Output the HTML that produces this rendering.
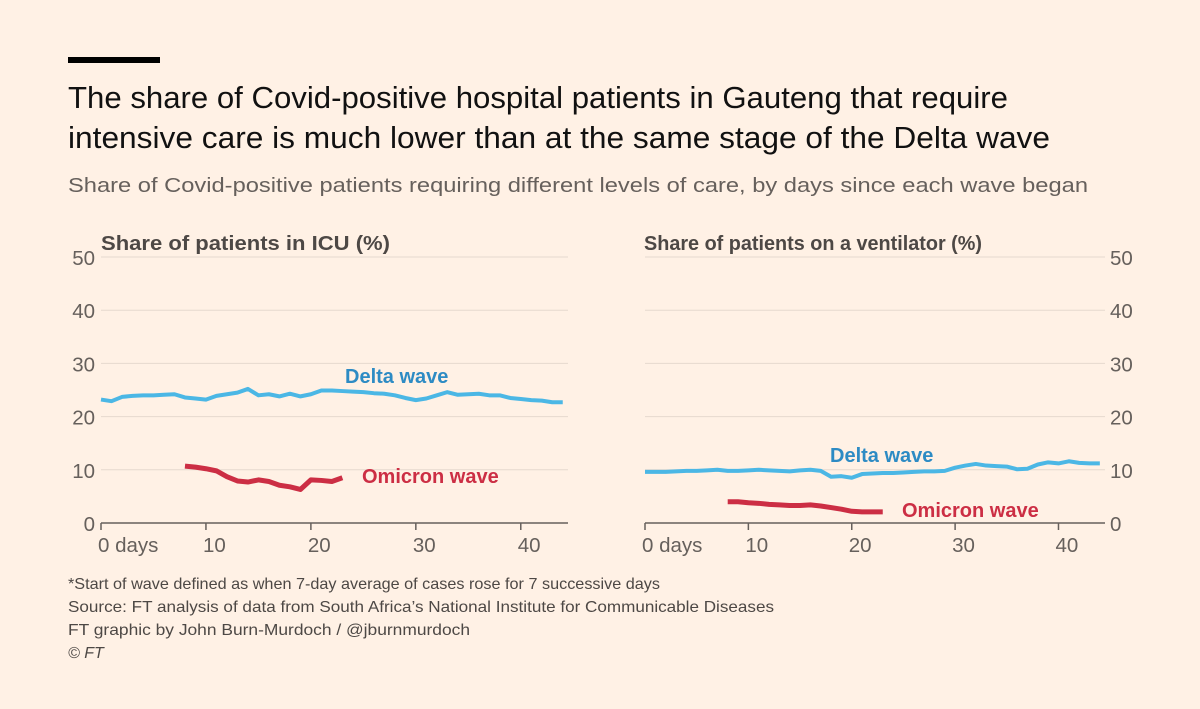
<!DOCTYPE html>
<html><head><meta charset="utf-8"><style>
body{margin:0;background:#fff1e5;}
svg{display:block;font-family:"Liberation Sans",sans-serif;}
</style></head><body>
<svg width="1200" height="709" viewBox="0 0 1200 709">
<rect width="1200" height="709" fill="#fff1e5"/>
<rect x="68" y="57" width="92" height="6" fill="#000"/>
<text x="68" y="108" font-size="31" fill="#111" textLength="940" lengthAdjust="spacingAndGlyphs">The share of Covid-positive hospital patients in Gauteng that require</text>
<text x="68" y="148" font-size="31" fill="#111" textLength="982" lengthAdjust="spacingAndGlyphs">intensive care is much lower than at the same stage of the Delta wave</text>
<text x="68" y="192" font-size="20.5" fill="#66605c" textLength="1020" lengthAdjust="spacingAndGlyphs">Share of Covid-positive patients requiring different levels of care, by days since each wave began</text>
<text x="101" y="250" font-size="20" font-weight="bold" fill="#4d4845" textLength="289" lengthAdjust="spacingAndGlyphs">Share of patients in ICU (%)</text>
<text x="644" y="250" font-size="20" font-weight="bold" fill="#4d4845" textLength="338" lengthAdjust="spacingAndGlyphs">Share of patients on a ventilator (%)</text>
<g id="left"></g>
<g id="right"></g>
<g font-size="16" fill="#4d4845">
<text x="68" y="589" textLength="592" lengthAdjust="spacingAndGlyphs">*Start of wave defined as when 7-day average of cases rose for 7 successive days</text>
<text x="68" y="612" textLength="706" lengthAdjust="spacingAndGlyphs">Source: FT analysis of data from South Africa’s National Institute for Communicable Diseases</text>
<text x="68" y="635" textLength="402" lengthAdjust="spacingAndGlyphs">FT graphic by John Burn-Murdoch / @jburnmurdoch</text>
<text x="68" y="658" font-style="italic">© FT</text>
</g>
</svg>
<script>
const yTicks=[0,10,20,30,40,50];
const xTicks=[0,10,20,30,40];
const xTickLabels=["0 days","10","20","30","40"];
const icuDelta=[23.2,22.9,23.7,23.9,24.0,24.0,24.1,24.2,23.6,23.4,23.2,23.9,24.2,24.5,25.2,24.0,24.2,23.8,24.3,23.8,24.2,24.9,24.9,24.8,24.7,24.6,24.4,24.3,24.0,23.5,23.1,23.4,24.0,24.6,24.1,24.2,24.3,24.0,24.0,23.5,23.3,23.1,23.0,22.7,22.7];
const icuOmicron=[10.7,10.5,10.2,9.8,8.7,7.9,7.7,8.1,7.8,7.1,6.8,6.3,8.1,8.0,7.8,8.5];
const ventDelta=[9.6,9.6,9.6,9.7,9.8,9.8,9.9,10.0,9.8,9.8,9.9,10.0,9.9,9.8,9.7,9.9,10.0,9.8,8.7,8.8,8.5,9.2,9.3,9.4,9.4,9.5,9.6,9.7,9.7,9.8,10.4,10.8,11.1,10.8,10.7,10.6,10.1,10.2,11.0,11.4,11.2,11.6,11.3,11.2,11.2];
const ventOmicron=[4.0,4.0,3.8,3.7,3.5,3.4,3.3,3.3,3.4,3.2,2.9,2.6,2.2,2.1,2.1,2.1];
const omicronStart=8;
const NS="http://www.w3.org/2000/svg";
function mk(p,tag,a){const e=document.createElementNS(NS,tag);for(const k in a)e.setAttribute(k,a[k]);p.appendChild(e);return e;}
function panel(g,x0,x1,axisRight,delta,omi,dLab,oLab){
 const sx=d=>x0+d*(x1-x0)/44.5, sy=v=>523-v*5.32;
 yTicks.forEach(t=>{
  const l=mk(g,'line',{x1:x0,x2:x1,y1:sy(t),y2:sy(t),stroke:t===0?'#66605c':'#e6d9ce','stroke-width':t===0?1.5:1});
  
  
  const tx=mk(g,'text',{x:axisRight?x1+5:x0-6,y:sy(t)+8,'font-size':20.5,fill:'#66605c','text-anchor':axisRight?'start':'end'});
  tx.textContent=t;
  
  
 });
 xTicks.forEach((t,i)=>{
  const l=mk(g,'line',{x1:sx(t),x2:sx(t),y1:523,y2:530,stroke:'#66605c','stroke-width':1.5});
  
  
  const tx=mk(g,'text',{x:sx(t)-3,y:552,'font-size':20.5,fill:'#66605c'});
  tx.textContent=xTickLabels[i];
  
  
 });
 const dp=mk(g,'polyline',{points:delta.map((v,i)=>sx(i)+','+sy(v)).join(' '),fill:'none',stroke:'#4bb7e5','stroke-width':4,'stroke-linejoin':'round'});
 
 
 const op=mk(g,'polyline',{points:omi.map((v,i)=>sx(i+omicronStart)+','+sy(v)).join(' '),fill:'none',stroke:'#cc2e44','stroke-width':5,'stroke-linejoin':'round'});
 
 
 const dl=mk(g,'text',{x:dLab[0],y:dLab[1],'font-size':20,'font-weight':'bold',fill:'#2d8bc4'});
 dl.textContent='Delta wave';
 
 
 const ol=mk(g,'text',{x:oLab[0],y:oLab[1],'font-size':20,'font-weight':'bold',fill:'#cc2e44'});
 ol.textContent='Omicron wave';
 
 
}
panel(document.getElementById('left'),101,568,false,icuDelta,icuOmicron,[345,383],[362,483]);
panel(document.getElementById('right'),645,1105,true,ventDelta,ventOmicron,[830,462],[902,517]);
</script>
</body></html>
